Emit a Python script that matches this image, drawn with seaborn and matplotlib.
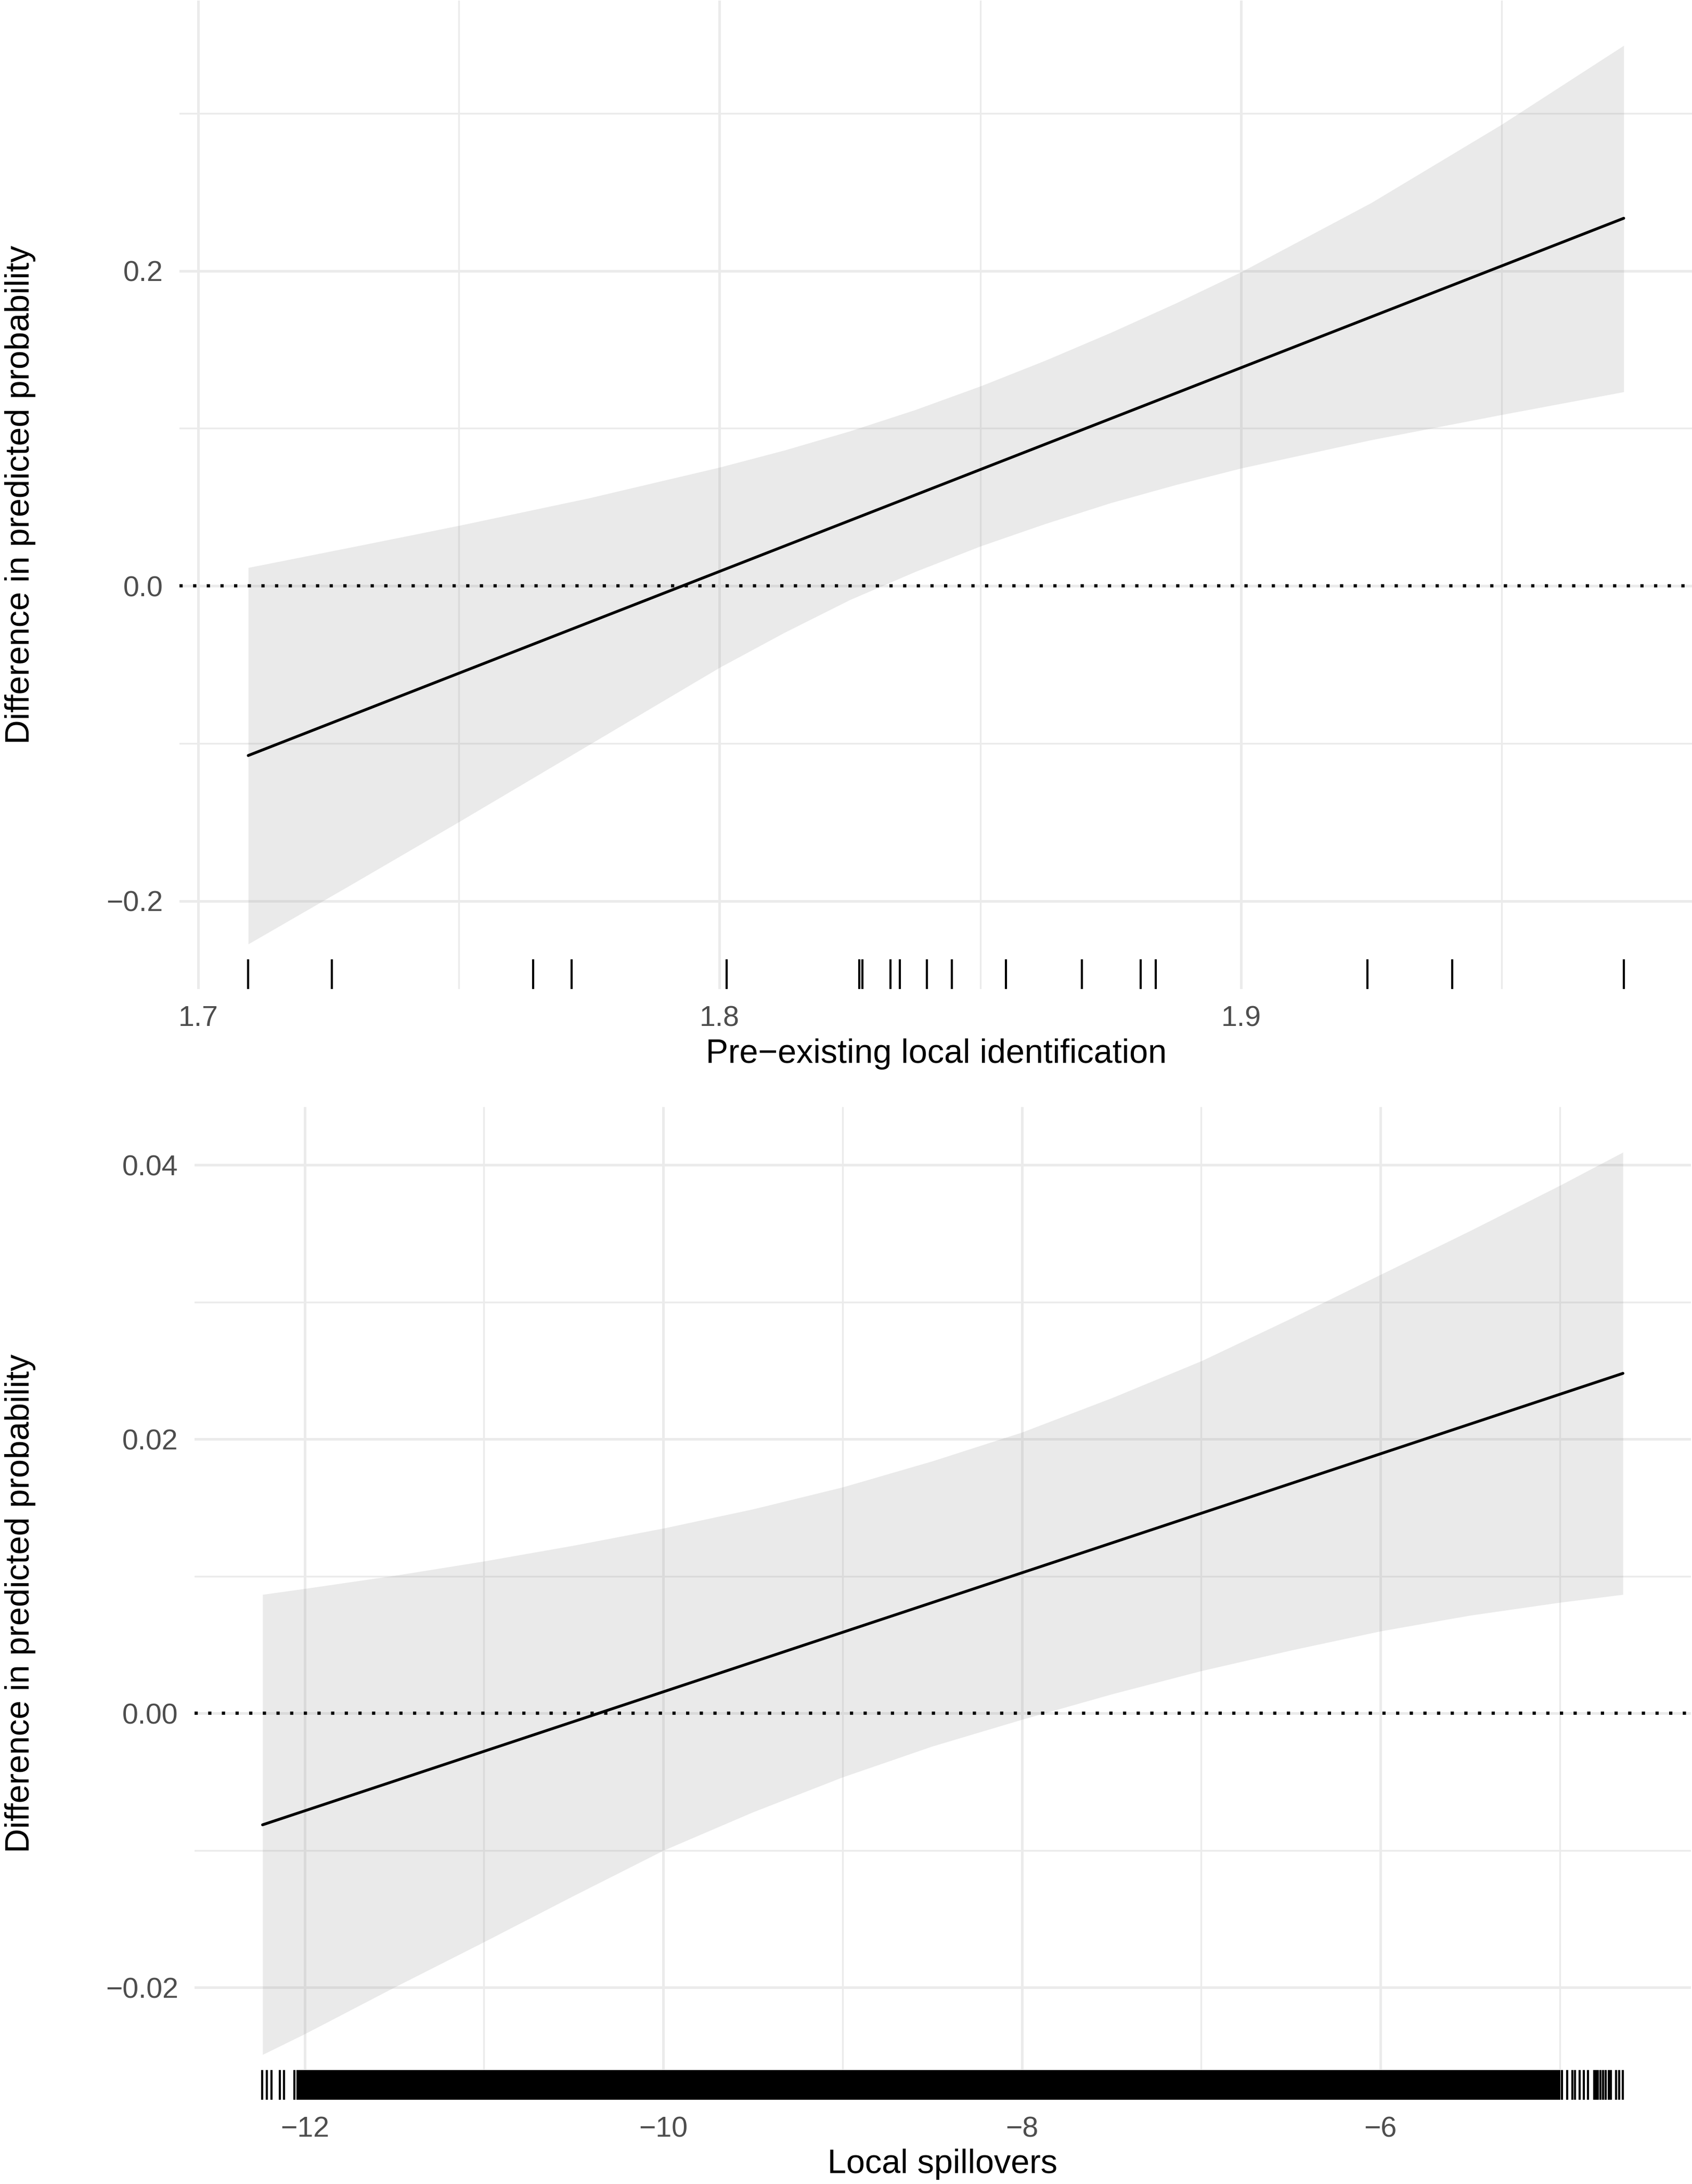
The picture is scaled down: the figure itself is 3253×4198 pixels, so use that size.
import matplotlib
matplotlib.use("Agg")
import matplotlib.pyplot as plt
import seaborn as sns

# --- top panel: pre-existing local identification ---
ident_line_x = [1.7096, 1.9734]
ident_line_y = [-0.1077, 0.2334]
ident_band_x = [1.7096, 1.73, 1.75, 1.775, 1.80, 1.8125, 1.825, 1.8375, 1.85, 1.8625,
                1.875, 1.8875, 1.90, 1.925, 1.95, 1.9734]
ident_lower = [-0.2274, -0.1884, -0.1498, -0.1008, -0.0518, -0.0295, -0.0088, 0.0090, 0.0252,
               0.0395, 0.0527, 0.0642, 0.0747, 0.0927, 0.1087, 0.1232]
ident_upper = [0.0116, 0.0250, 0.0383, 0.0558, 0.0753, 0.0862, 0.0983, 0.1118, 0.1268,
               0.1432, 0.1608, 0.1795, 0.1993, 0.2433, 0.2930, 0.3431]
ident_rug = [1.7096, 1.7256, 1.7642, 1.7716, 1.8013, 1.8268, 1.8274, 1.8328, 1.8346,
             1.8398, 1.8445, 1.8549, 1.8695, 1.8808, 1.8836, 1.9242, 1.9405, 1.9734]
ident_xticks = [1.7, 1.8, 1.9]
ident_xminor = [1.75, 1.85, 1.95]
ident_yticks = [-0.2, 0.0, 0.2]
ident_yminor = [-0.1, 0.1, 0.3]
ident_ylabels = ["\u22120.2", "0.0", "0.2"]

# --- bottom panel: local spillovers ---
spill_line_x = [-12.235, -4.647]
spill_line_y = [-0.00813, 0.0248]
spill_band_x = [-12.235, -12, -11.5, -11, -10.5, -10, -9.5, -9, -8.5, -8, -7.5, -7,
                -6.5, -6, -5.5, -5, -4.647]
spill_lower = [-0.02489, -0.02338, -0.01998, -0.01667, -0.01330, -0.0100, -0.00720, -0.00465,
               -0.00240, -0.00045, 0.00140, 0.00310, 0.00460, 0.00600, 0.00715, 0.00809, 0.00867]
spill_upper = [0.00867, 0.00910, 0.01005, 0.01110, 0.01225, 0.01350, 0.01490, 0.01650,
               0.01840, 0.02050, 0.02300, 0.02570, 0.02880, 0.03200, 0.03520, 0.03850, 0.04093]
spill_rug_left = [-12.236, -12.210, -12.184, -12.140, -12.114, -12.058]
spill_rug_dense = [-12.045, -4.997]  # observations too dense to separate
spill_rug_right = [-4.988, -4.959, -4.930, -4.916, -4.889, -4.866, -4.843, -4.808, -4.799,
                   -4.788, -4.773, -4.759, -4.742, -4.727, -4.713, -4.686, -4.669, -4.647]
spill_xticks = [-12, -10, -8, -6]
spill_xminor = [-11, -9, -7, -5]
spill_yticks = [-0.02, 0.0, 0.02, 0.04]
spill_yminor = [-0.01, 0.01, 0.03]
spill_ylabels = ["\u22120.02", "0.00", "0.02", "0.04"]

W, H = 3254, 4198
DPI = 300

sns.set_style("white")
plt.rcParams["font.family"] = ["Liberation Sans", "DejaVu Sans"]

GRID = "#EBEBEB"
TICK_COLOR = "#4D4D4D"


def expand(lo, hi, frac=0.05):
    span = hi - lo
    return lo - frac * span, hi + frac * span


def draw_panel(ax, line_x, line_y, band_x, lower, upper, xticks, xminor,
               yticks, yminor, ylabels):
    ax.set_axisbelow(True)
    ax.set_xticks(xticks)
    ax.set_xticklabels([f"{t:g}".replace("-", "\u2212") for t in xticks])
    ax.set_xticks(xminor, minor=True)
    ax.set_yticks(yticks)
    ax.set_yticklabels(ylabels)
    ax.set_yticks(yminor, minor=True)
    ax.grid(True, which="major", color=GRID, lw=1.2)
    ax.grid(True, which="minor", color=GRID, lw=0.8)
    ax.tick_params(which="both", length=0, labelsize=13.3, colors=TICK_COLOR, pad=7.5)
    for s in ax.spines.values():
        s.set_visible(False)

    ax.fill_between(band_x, lower, upper, color="#999999", alpha=0.2, lw=0, zorder=2)
    ax.axhline(0, color="black", lw=1.5, ls=(0, (1, 3.2)), zorder=3)
    sns.lineplot(x=line_x, y=line_y, color="black", lw=1.3, ax=ax, zorder=4)

    ax.set_xlim(*expand(min(band_x), max(band_x)))
    ax.set_ylim(*expand(min(lower), max(upper)))
    ax.set_xlabel("")
    ax.set_ylabel("")


fig = plt.figure(figsize=(W / DPI, H / DPI), dpi=DPI)

ax1 = fig.add_axes([345 / W, 1 - 1901 / H, (W - 345) / W, 1900 / H])
draw_panel(ax1, ident_line_x, ident_line_y, ident_band_x, ident_lower, ident_upper,
           ident_xticks, ident_xminor, ident_yticks, ident_yminor, ident_ylabels)
sns.rugplot(x=ident_rug, height=0.03, color="black", lw=1.35, ax=ax1, zorder=5)
ax1.set_xlim(*expand(min(ident_band_x), max(ident_band_x)))

ax2 = fig.add_axes([374 / W, 1 - 4036 / H, (3251 - 374) / W, (4036 - 2128) / H])
draw_panel(ax2, spill_line_x, spill_line_y, spill_band_x, spill_lower, spill_upper,
           spill_xticks, spill_xminor, spill_yticks, spill_yminor, spill_ylabels)
sns.rugplot(x=spill_rug_left + spill_rug_right, height=0.03, color="black", lw=1.2,
            ax=ax2, zorder=5)
ax2.axvspan(spill_rug_dense[0], spill_rug_dense[1], ymin=0, ymax=0.03,
            color="black", lw=0, zorder=5)
ax2.set_xlim(*expand(min(spill_band_x), max(spill_band_x)))

# axis titles
fig.text(1800 / W, 1 - 2043 / H, "Pre\u2212existing local identification",
         ha="center", va="baseline", fontsize=15.5, color="black")
fig.text(1812 / W, 1 - 4177 / H, "Local spillovers",
         ha="center", va="baseline", fontsize=15.5, color="black")
fig.text(39 / W, 1 - 951 / H, "Difference in predicted probability",
         ha="center", va="center", rotation=90, fontsize=15.5, color="black")
fig.text(39 / W, 1 - 3082 / H, "Difference in predicted probability",
         ha="center", va="center", rotation=90, fontsize=15.5, color="black")

fig.savefig("out.png", dpi=DPI)
